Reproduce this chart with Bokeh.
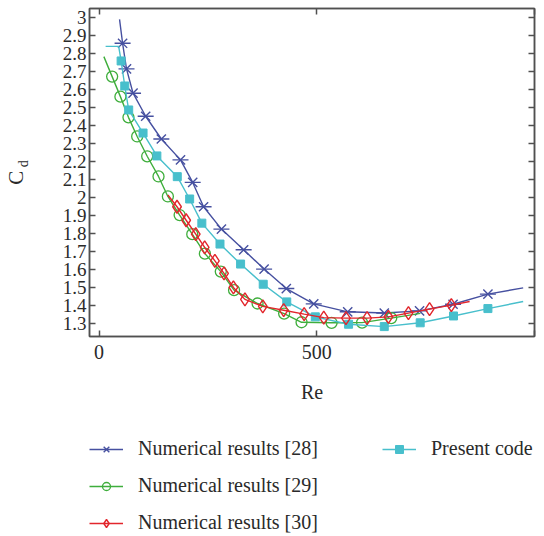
from bokeh.plotting import figure
from bokeh.layouts import column
from bokeh.models import (Range1d, FixedTicker, LinearAxis, CustomJSTickFormatter,
                          Legend, LegendItem, CustomLabelingPolicy)
from bokeh.embed import file_html
from bokeh.resources import INLINE

# ---- data ----
re28_x = [47, 54, 63, 78, 107, 143, 187, 215, 240, 281, 332, 379, 430, 493, 571, 655, 736, 813, 893, 974]
re28_y = [2.99, 2.857, 2.715, 2.58, 2.452, 2.326, 2.21, 2.085, 1.95, 1.826, 1.711, 1.604, 1.496, 1.411,
          1.367, 1.36, 1.372, 1.409, 1.465, 1.50]
re28_marks = slice(1, 19)

re29_x = [11, 30, 49, 67.5, 87.5, 110.5, 136.5, 158, 185, 214, 243, 279.5, 310, 364, 425, 465, 534, 604, 671, 738]
re29_y = [2.783, 2.672, 2.561, 2.446, 2.34, 2.23, 2.118, 2.007, 1.904, 1.798, 1.69, 1.59, 1.487, 1.413,
          1.357, 1.309, 1.306, 1.307, 1.332, 1.358]
re29_marks = slice(1, 19)

re30_x = [158, 179, 200, 222, 242.5, 266, 287, 308.5, 335, 376, 424, 471, 516, 567, 615.5, 664.5, 710.5,
          759, 809, 851]
re30_y = [2.015, 1.95, 1.875, 1.798, 1.724, 1.65, 1.58, 1.502, 1.436, 1.397, 1.376, 1.354, 1.335, 1.332,
          1.332, 1.339, 1.36, 1.382, 1.404, 1.424]
re30_marks = slice(1, 19)

present_x = [15, 45, 50.6, 59, 68, 101, 132.7, 179.6, 208, 236, 277.7, 325, 377, 431, 496.6, 573, 655,
             737.5, 814, 893, 974]
present_y = [2.84, 2.84, 2.759, 2.62, 2.487, 2.359, 2.232, 2.117, 1.993, 1.859, 1.743, 1.632, 1.52, 1.422,
             1.339, 1.298, 1.285, 1.306, 1.344, 1.385, 1.424]
present_marks = slice(2, 20)

x_ticks = [0, 500, 1000]
y_ticks = [1.3, 1.4, 1.5, 1.6, 1.7, 1.8, 1.9, 2.0, 2.1, 2.2, 2.3, 2.4, 2.5, 2.6, 2.7, 2.8, 2.9, 3.0]

labels = ["Numerical results [28]", "Numerical results [29]", "Numerical results [30]", "Present code"]

BLUE = "#4650a0"
GREEN = "#3fae3c"
RED = "#e2262c"
CYAN = "#48bfcc"
FONT = "Liberation Serif"
TXT = "#2a2a2a"
AX = "#505050"

p = figure(width=544, height=410, output_backend="svg", toolbar_location=None,
           x_range=Range1d(-22, 1000), y_range=Range1d(1.23, 3.05),
           min_border_left=89, min_border_right=10, min_border_top=8, min_border_bottom=74)
p.xgrid.visible = False
p.ygrid.visible = False
p.outline_line_color = AX
p.outline_line_width = 1.5
p.background_fill_color = "white"
p.border_fill_color = "white"

no_labels = CustomLabelingPolicy(code="for (const i of indices) indices.unset(i); return indices;")

def style_ticks(ax):
    ax.major_tick_in = 6
    ax.major_tick_out = 0
    ax.minor_tick_in = 0
    ax.minor_tick_out = 0
    ax.axis_line_color = AX
    ax.axis_line_width = 1.5
    ax.major_tick_line_color = AX
    ax.major_tick_line_width = 1.5

# bottom axis
xa = p.xaxis[0]
xa.ticker = FixedTicker(ticks=x_ticks)
xa.formatter = CustomJSTickFormatter(code="return tick >= 1000 ? '' : String(tick);")
style_ticks(xa)
xa.major_label_text_font = FONT
xa.major_label_text_font_size = "20px"
xa.major_label_text_color = TXT
xa.major_label_standoff = 8
xa.axis_label = "Re"
xa.axis_label_text_font = FONT
xa.axis_label_text_font_size = "20px"
xa.axis_label_text_font_style = "normal"
xa.axis_label_text_color = TXT
xa.axis_label_standoff = 19

# left axis
ya = p.yaxis[0]
ya.ticker = FixedTicker(ticks=y_ticks)
ya.formatter = CustomJSTickFormatter(code="return String(Math.round(tick*10)/10);")
style_ticks(ya)
ya.major_label_text_font = FONT
ya.major_label_text_font_size = "19px"
ya.major_label_text_color = TXT
ya.major_label_standoff = 3

# y label C_d: subscript and main letter as label-only axes
ax_d = LinearAxis(ticker=FixedTicker(ticks=[]), axis_line_color=None, major_tick_line_color=None,
                  minor_tick_line_color=None, axis_label="\u00a0\u00a0\u00a0\u00a0\u00a0d",
                  axis_label_text_font=FONT, axis_label_text_font_size="14px",
                  axis_label_text_font_style="normal", axis_label_text_color=TXT,
                  axis_label_standoff=29)
ax_c = LinearAxis(ticker=FixedTicker(ticks=[]), axis_line_color=None, major_tick_line_color=None,
                  minor_tick_line_color=None, axis_label="C\u00a0\u00a0",
                  axis_label_text_font=FONT, axis_label_text_font_size="21px",
                  axis_label_text_font_style="normal", axis_label_text_color=TXT,
                  axis_label_standoff=-15)
p.add_layout(ax_d, "left")
p.add_layout(ax_c, "left")

# mirrored tick axes (ticks only)
top = LinearAxis(ticker=FixedTicker(ticks=x_ticks), major_label_policy=no_labels,
                 major_label_standoff=0, major_label_text_font_size="1px")
right = LinearAxis(ticker=FixedTicker(ticks=y_ticks), major_label_policy=no_labels,
                   major_label_standoff=0, major_label_text_font_size="1px")
style_ticks(top)
style_ticks(right)
p.add_layout(top, "above")
p.add_layout(right, "right")

# series
def draw_series(fig, xs, ys, marks):
    out = {}
    out["l28"] = fig.line(xs[0], ys[0], line_color=BLUE, line_width=1.4)
    out["m28"] = fig.scatter(xs[0][marks[0]], ys[0][marks[0]], marker="x", size=13,
                             line_color=BLUE, line_width=1.4)
    out["d28"] = fig.scatter(xs[0][marks[0]], ys[0][marks[0]], marker="dash", size=16,
                             line_color=BLUE, line_width=1.4)
    out["l29"] = fig.line(xs[1], ys[1], line_color=GREEN, line_width=1.4)
    out["m29"] = fig.scatter(xs[1][marks[1]], ys[1][marks[1]], marker="circle", size=11,
                             line_color=GREEN, line_width=1.3, fill_color=None)
    out["lpc"] = fig.line(xs[3], ys[3], line_color=CYAN, line_width=1.4)
    out["mpc"] = fig.scatter(xs[3][marks[3]], ys[3][marks[3]], marker="square", size=8,
                             line_color=CYAN, fill_color=CYAN)
    out["l30"] = fig.line(xs[2], ys[2], line_color=RED, line_width=1.4)
    out["m30"] = fig.scatter(xs[2][marks[2]], ys[2][marks[2]], marker="diamond", size=13,
                             line_color=RED, line_width=1.4, fill_color=None)
    return out

XS = [re28_x, re29_x, re30_x, present_x]
YS = [re28_y, re29_y, re30_y, present_y]
MK = [re28_marks, re29_marks, re30_marks, present_marks]
draw_series(p, XS, YS, MK)

# ---- legend panel: a second figure below whose ranges show none of the data ----
q = figure(width=544, height=126, output_backend="svg", toolbar_location=None,
           x_range=Range1d(0, 1), y_range=Range1d(0, 1), x_axis_location=None, y_axis_location=None,
           min_border_left=0, min_border_right=0, min_border_top=0, min_border_bottom=0)
q.xgrid.visible = False
q.ygrid.visible = False
q.outline_line_color = None
q.border_fill_color = "white"
q.background_fill_color = "white"
g = draw_series(q, XS, YS, MK)

def make_legend(items, loc):
    lg = Legend(items=items, location=loc, orientation="vertical")
    lg.border_line_color = None
    lg.background_fill_alpha = 0
    lg.padding = 0
    lg.margin = 0
    lg.spacing = 14
    lg.glyph_width = 34
    lg.glyph_height = 20
    lg.label_height = 20
    lg.label_standoff = 15
    lg.label_text_font = FONT
    lg.label_text_font_size = "20px"
    lg.label_text_color = TXT
    lg.label_text_baseline = "middle"
    return lg

leg1 = make_legend([LegendItem(label=labels[0], renderers=[g["l28"], g["m28"]]),
                    LegendItem(label=labels[1], renderers=[g["l29"], g["m29"]]),
                    LegendItem(label=labels[2], renderers=[g["l30"], g["m30"]])], (0, 2))
leg2 = make_legend([LegendItem(label=labels[3], renderers=[g["lpc"], g["mpc"]])], (293, 76))
q.add_layout(leg1, "center")
q.add_layout(leg2, "center")

page = column(p, q, spacing=0)
open("out.html", "w").write(file_html(page, INLINE))
